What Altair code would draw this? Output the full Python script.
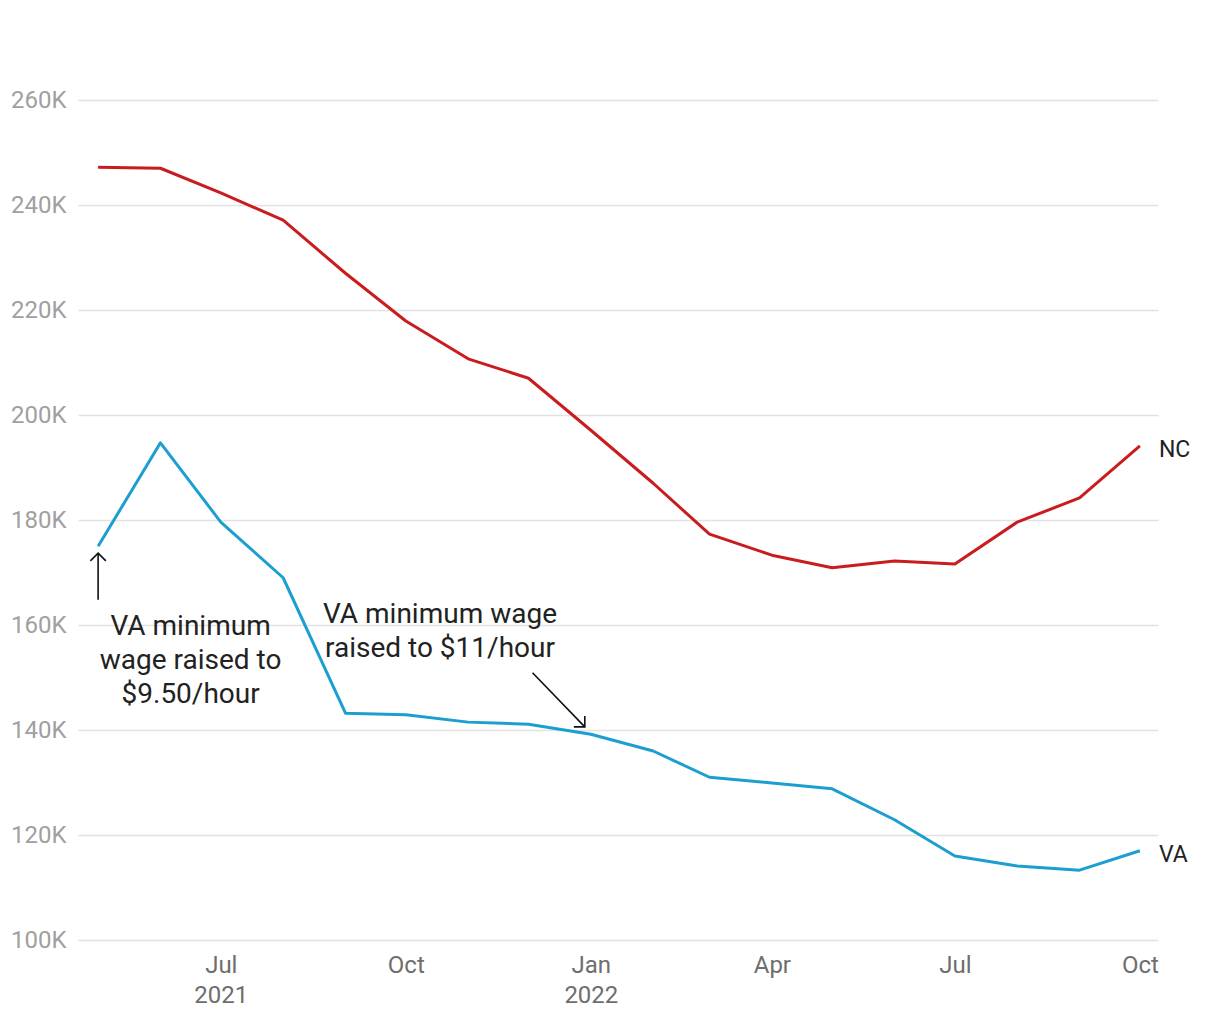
import altair as alt
import pandas as pd

months = ["2021-05-01", "2021-06-01", "2021-07-01", "2021-08-01", "2021-09-01", "2021-10-01",
          "2021-11-01", "2021-12-01", "2022-01-01", "2022-02-01", "2022-03-01", "2022-04-01",
          "2022-05-01", "2022-06-01", "2022-07-01", "2022-08-01", "2022-09-01", "2022-10-01"]
nc_values = [247200, 247000, 242300, 237100, 227000, 217900, 210700, 207000, 197100, 187000,
             177300, 173300, 170900, 172200, 171600, 179600, 184200, 194100]
va_values = [175000, 194700, 179600, 169000, 143200, 142900, 141500, 141100, 139200, 136000,
             131000, 129900, 128800, 122900, 116000, 114100, 113300, 117000]

y_ticks = [100000, 120000, 140000, 160000, 180000, 200000, 220000, 240000, 260000]
x_tick_dates = ["2021-07-01", "2021-10-01", "2022-01-01", "2022-04-01", "2022-07-01", "2022-10-01"]
x_tick_labels = [["Jul", "2021"], ["Oct"], ["Jan", "2022"], ["Apr"], ["Jul"], ["Oct"]]

ann_texts = [["VA minimum", "wage raised to", "$9.50/hour"], ["VA minimum wage", "raised to $11/hour"]]
ann_dates = ["2021-06-16", "2021-10-18"]
ann_values = [159600, 161900]

arrow_start_dates = ["2021-05-01", "2021-12-03"]
arrow_start_values = [164800, 150900]
arrow_end_dates = ["2021-05-01", "2021-12-29"]
arrow_end_values = [173700, 140600]
arrow_angles = [0, 135]

NC_COLOR = "#c91c1f"
VA_COLOR = "#1c9fd0"

df = pd.DataFrame({
    "month": months * 2,
    "value": nc_values + va_values,
    "state": ["NC"] * len(months) + ["VA"] * len(months),
})
last = df[df["month"] == months[-1]]
ann_df = pd.DataFrame({"date": ann_dates, "value": ann_values, "text": ann_texts})
arrow_df = pd.DataFrame({
    "x1": arrow_start_dates, "y1": arrow_start_values,
    "x2": arrow_end_dates, "y2": arrow_end_values, "angle": arrow_angles,
})

def dt(s):
    y, m, d = [int(p) for p in s.split("-")]
    return alt.DateTime(year=y, month=m, date=d, utc=True)

parts = []
for d, lab in zip(x_tick_dates, x_tick_labels):
    y, m, _ = [int(p) for p in d.split("-")]
    arr = "[" + ",".join("'" + t + "'" for t in lab) + "]"
    parts.append(f"(utcyear(datum.value)=={y} && utcmonth(datum.value)=={m-1}) ? {arr} : ")
label_expr = "".join(parts) + "''"

x_scale = alt.Scale(type="utc", domain=[dt("2021-04-21"), dt("2022-10-10")])
y_scale = alt.Scale(domain=[100000, 260000])

x_enc = alt.X("month:T", scale=x_scale, title=None,
              axis=alt.Axis(values=[dt(d) for d in x_tick_dates], labelExpr=label_expr,
                            grid=False, domain=False, ticks=False, labelFontSize=24,
                            labelColor="#6e6e6e", labelPadding=13, labelLineHeight=30,
                            labelFont="Roboto"))
y_enc = alt.Y("value:Q", scale=y_scale, title=None,
              axis=alt.Axis(values=y_ticks, labelExpr="(datum.value/1000) + 'K'",
                            domain=False, ticks=False, gridColor="#e2e2e2", gridWidth=1.5,
                            labelFontSize=24, labelColor="#a0a0a0", labelPadding=12,
                            labelFont="Roboto"))

lines = alt.Chart(df).mark_line(strokeWidth=3, strokeJoin="round").encode(
    x=x_enc, y=y_enc,
    color=alt.Color("state:N", scale=alt.Scale(domain=["NC", "VA"], range=[NC_COLOR, VA_COLOR]),
                    legend=None),
)

end_labels = alt.Chart(last).mark_text(align="left", dx=19, dy=4, fontSize=23, font="Roboto",
                                       color="#222222").encode(
    x=alt.X("month:T", scale=x_scale), y=alt.Y("value:Q", scale=y_scale), text="state:N")

ann = alt.Chart(ann_df).mark_text(align="center", baseline="middle", fontSize=28, lineHeight=34,
                                  font="Roboto", color="#222222").encode(
    x=alt.X("date:T", scale=x_scale), y=alt.Y("value:Q", scale=y_scale), text="text")

arrow_lines = alt.Chart(arrow_df).mark_rule(color="#111111", strokeWidth=1.6).encode(
    x=alt.X("x1:T", scale=x_scale), y=alt.Y("y1:Q", scale=y_scale),
    x2="x2:T", y2="y2:Q")

arrow_heads = alt.Chart(arrow_df).mark_point(shape="M-1,1L0,0L1,1", filled=False, size=240,
                                             color="#111111", strokeWidth=1.6, opacity=1).encode(
    x=alt.X("x2:T", scale=x_scale), y=alt.Y("y2:Q", scale=y_scale),
    angle=alt.Angle("angle:Q", scale=None))

chart = alt.layer(lines, end_labels, ann, arrow_lines, arrow_heads).properties(
    width=1080, height=840,
    autosize=alt.AutoSizeParams(type="none"),
    padding={"left": 70, "top": 92, "right": 50, "bottom": 70},
).configure(font="Roboto").configure_view(stroke=None)

chart.save("out.html", embed_options={"renderer": "svg", "actions": False})
